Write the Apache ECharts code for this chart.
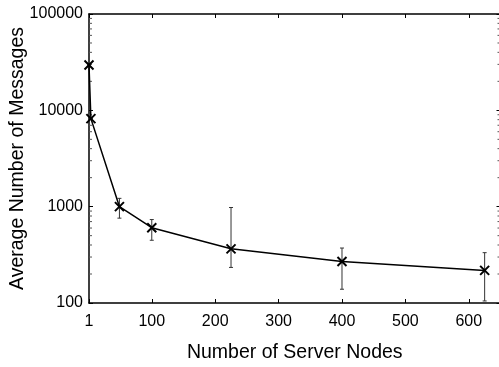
<!DOCTYPE html>
<html><head><meta charset="utf-8">
<script src="https://cdn.jsdelivr.net/npm/echarts@6/dist/echarts.min.js"></script>
<style>html,body{margin:0;padding:0;background:#fff}#c{width:499px;height:367px}</style>
</head><body><div id="c"></div>
<script>
var nodes = [1, 4, 49, 100, 225, 400, 625];
var messages = [29500, 8200, 1000, 605, 365, 270, 218];
var errLow = [29500, 8200, 760, 448, 234, 139, 105];
var errHigh = [29500, 8200, 1220, 735, 980, 372, 333];
var xTicks = [1, 100, 200, 300, 400, 500, 600];
var yTicks = [100, 1000, 10000, 100000];
var minorTicks = [200,300,400,500,600,700,800,900,2000,3000,4000,5000,6000,7000,8000,9000,20000,30000,40000,50000,60000,70000,80000,90000];

var FONT = '"Liberation Sans", Arial, sans-serif';
var chart = echarts.init(document.getElementById('c'), null, {renderer: 'canvas'});
var XMIN = 1, XMAX = 650;

var lineData = nodes.map(function (x, i) { return [x, messages[i]]; });
var errData = nodes.map(function (x, i) { return [x, errLow[i], errHigh[i]]; });
var minorData = minorTicks.map(function (v) { return [XMIN, v]; });

function crossPath() { return 'path://M0,0L10,10M10,0L0,10'; }
function plain(v) { return String(Math.round(v)); }

chart.setOption({
  animation: false,
  backgroundColor: '#fff',
  grid: {left: 89, top: 14, width: 411.5, height: 289, containLabel: false, outerBoundsMode: 'none'},
  xAxis: [{
    type: 'value', min: XMIN, max: XMAX, position: 'bottom',
    name: 'Number of Server Nodes', nameLocation: 'middle', nameGap: 40, nameMoveOverlap: false,
    nameTextStyle: {fontFamily: FONT, fontSize: 19.5, color: '#000'},
    axisLine: {show: true, lineStyle: {color: '#000', width: 1.5}},
    axisTick: {show: true, inside: true, length: 4, customValues: xTicks, lineStyle: {color: '#000', width: 1}},
    axisLabel: {show: true, customValues: xTicks, margin: 11, fontFamily: FONT, fontSize: 16, color: '#000', formatter: plain},
    splitLine: {show: false}
  }, {
    type: 'value', min: XMIN, max: XMAX, position: 'top',
    axisLine: {show: true, lineStyle: {color: '#000', width: 1.5}},
    axisTick: {show: true, inside: true, length: 4, customValues: xTicks, lineStyle: {color: '#000', width: 1}},
    axisLabel: {show: false},
    splitLine: {show: false}
  }],
  yAxis: [{
    type: 'log', logBase: 10, min: 100, max: 100000, position: 'left',
    name: 'Average Number of Messages', nameLocation: 'middle', nameGap: 61, nameMoveOverlap: false,
    nameTextStyle: {fontFamily: FONT, fontSize: 19.5, color: '#000'},
    axisLine: {show: true, lineStyle: {color: '#000', width: 1.5}},
    axisTick: {show: true, inside: true, length: 4, customValues: yTicks, lineStyle: {color: '#000', width: 1}},
    axisLabel: {show: true, customValues: yTicks, margin: 6, fontFamily: FONT, fontSize: 16, color: '#000', formatter: plain},
    splitLine: {show: false}
  }, {
    type: 'log', logBase: 10, min: 100, max: 100000, position: 'right',
    axisLine: {show: true, lineStyle: {color: '#000', width: 1.5}},
    axisTick: {show: true, inside: true, length: 4, customValues: yTicks, lineStyle: {color: '#000', width: 1}},
    axisLabel: {show: false},
    splitLine: {show: false}
  }],
  series: [{
    type: 'custom', name: 'minor', xAxisIndex: 0, yAxisIndex: 0, silent: true, z: 1,
    data: minorData,
    encode: {x: 0, y: 1},
    clip: false,
    renderItem: function (params, api) {
      var v = api.value(1);
      var pl = api.coord([XMIN, v]);
      var pr = api.coord([XMAX, v]);
      var st = {stroke: '#555', lineWidth: 1};
      return {type: 'group', children: [
        {type: 'line', shape: {x1: pl[0], y1: pl[1], x2: pl[0] + 3, y2: pl[1]}, style: st},
        {type: 'line', shape: {x1: pr[0], y1: pr[1], x2: pr[0] - 3, y2: pr[1]}, style: st}
      ]};
    }
  }, {
    type: 'custom', name: 'err', xAxisIndex: 0, yAxisIndex: 0, silent: true, z: 2,
    data: errData,
    encode: {x: 0, y: [1, 2]},
    renderItem: function (params, api) {
      var x = api.value(0);
      var lo = api.coord([x, api.value(1)]);
      var hi = api.coord([x, api.value(2)]);
      var st = {stroke: '#333', lineWidth: 1};
      var w = 2;
      return {type: 'group', children: [
        {type: 'line', shape: {x1: lo[0], y1: lo[1], x2: hi[0], y2: hi[1]}, style: st},
        {type: 'line', shape: {x1: lo[0] - w, y1: lo[1], x2: lo[0] + w, y2: lo[1]}, style: st},
        {type: 'line', shape: {x1: hi[0] - w, y1: hi[1], x2: hi[0] + w, y2: hi[1]}, style: st}
      ]};
    }
  }, {
    type: 'line', name: 'messages', xAxisIndex: 0, yAxisIndex: 0, z: 3,
    data: lineData,
    symbol: crossPath(), symbolSize: 9,
    itemStyle: {color: '#000', borderColor: '#000', borderWidth: 2},
    lineStyle: {color: '#000', width: 1.5}
  }]
});
</script></body></html>
